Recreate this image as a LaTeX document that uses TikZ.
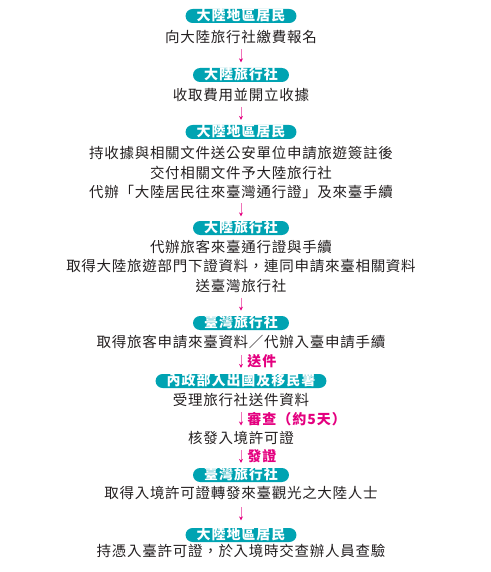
\documentclass[tikz,border=0pt]{standalone}
\usepackage{fontspec}
\setmainfont{Noto Sans CJK TC}
\newfontfamily\bodyfont[LetterSpace=5]{Noto Sans CJK TC}
\newfontfamily\headfont[LetterSpace=7]{Noto Sans CJK TC}
\usetikzlibrary{arrows.meta, positioning, calc}

\definecolor{pillteal}{HTML}{00A3B2}
\definecolor{flowpink}{HTML}{E4007F}
\definecolor{bodytext}{HTML}{231F20}

\begin{document}
\begin{tikzpicture}[x=1pt, y=-1pt,
  pill/.style={fill=pillteal, text=white, rounded corners=7pt, minimum height=14pt,
    inner xsep=11pt, inner ysep=0pt, text height=10.5pt, text depth=2pt,
    font=\headfont\bfseries\fontsize{14}{14}\selectfont},
  desc/.style={text=bodytext, inner sep=0pt, align=center,
    font=\bodyfont\fontsize{14.5}{19.5}\selectfont},
  flow/.style={draw=flowpink!55, line width=0.8pt,
    -{Stealth[length=4pt, width=4pt, flowpink]}},
  tag/.style={right=6pt, text=flowpink, inner sep=0pt,
    font=\headfont\bfseries\fontsize{14}{14}\selectfont}]
  \useasboundingbox (0,0) rectangle (490,572);

  % Steps
  \node[pill] (h1) at (241,16) {大陸地區居民};
  \node[desc] (t1) at (241,37) {向大陸旅行社繳費報名};
  \node[pill] (h2) at (241,75) {大陸旅行社};
  \node[desc] (t2) at (241,95) {收取費用並開立收據};
  \node[pill] (h3) at (241,132) {大陸地區居民};
  \node[desc] (t3) at (241,172.5) {持收據與相關文件送公安單位申請旅遊簽註後\\交付相關文件予大陸旅行社\\代辦「大陸居民往來臺灣通行證」及來臺手續};
  \node[pill] (h4) at (241,228) {大陸旅行社};
  \node[desc] (t4) at (241,266) {代辦旅客來臺通行證與手續\\取得大陸旅遊部門下證資料，連同申請來臺相關資料\\送臺灣旅行社};
  \node[pill] (h5) at (241,323) {臺灣旅行社};
  \node[desc] (t5) at (241,342) {取得旅客申請來臺資料／代辦入臺申請手續};
  \node[pill] (h6) at (241,381) {內政部入出國及移民署};
  \node[desc] (t6) at (241,400) {受理旅行社送件資料};
  \node[desc] (t7) at (241,438) {核發入境許可證};
  \node[pill] (h7) at (241,475) {臺灣旅行社};
  \node[desc] (t8) at (241,493) {取得入境許可證轉發來臺觀光之大陸人士};
  \node[pill] (h8) at (241,535) {大陸地區居民};
  \node[desc] (t9) at (241,551) {持憑入臺許可證，於入境時交查辦人員查驗};

  % Arrows, centred in the gap
  \draw[flow] ($(t1.south)!.5!(h2.north)$) +(0,-6.5) -- +(0,6.5);
  \draw[flow] ($(t2.south)!.5!(h3.north)$) +(0,-6.5) -- +(0,6.5);
  \draw[flow] ($(t3.south)!.5!(h4.north)$) +(0,-6.5) -- +(0,6.5);
  \draw[flow] ($(t4.south)!.5!(h5.north)$) +(0,-6.5) -- +(0,6.5);
  \draw[flow] ($(t5.south)!.5!(h6.north)$) +(0,-6.5) -- +(0,6.5) node[tag, midway] {送件};
  \draw[flow] ($(t6.south)!.5!(t7.north)$) +(0,-6.5) -- +(0,6.5) node[tag, midway] {審查（約5天）};
  \draw[flow] ($(t7.south)!.5!(h7.north)$) +(0,-6.5) -- +(0,6.5) node[tag, midway] {發證};
  \draw[flow] ($(t8.south)!.5!(h8.north)$) +(0,-6.5) -- +(0,6.5);
\end{tikzpicture}
\end{document}
